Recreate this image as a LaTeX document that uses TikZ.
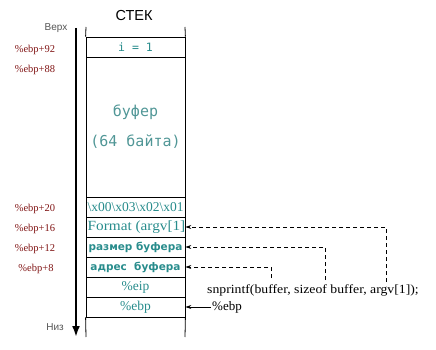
\documentclass[tikz,border=0pt]{standalone}
\usepackage{fontspec}
\setmainfont{Liberation Serif}
\newfontfamily\cyrsans{DejaVu Sans}
\newfontfamily\cyrmono{DejaVu Sans Mono}
\newfontfamily\hsans{Liberation Sans}
\usetikzlibrary{arrows.meta}
\definecolor{tealc}{RGB}{40,140,140}
\definecolor{tealL}{RGB}{80,150,150}
\definecolor{dred}{RGB}{128,20,20}
\definecolor{grayc}{RGB}{85,85,85}
\begin{document}
\begin{tikzpicture}[x=1pt,y=-1pt,
  cell/.style={draw, line width=0.8pt, minimum width=99pt, minimum height=20pt, inner sep=0pt, text=tealc},
  celltext/.style={inner sep=0pt, text=tealc},
  offs/.style={text=dred, font=\fontsize{10.5}{11}\selectfont},
  dashline/.style={draw, line width=0.7pt, dash pattern=on 4pt off 3pt, -{Stealth[length=6pt,width=4pt]}},
  solidarrow/.style={draw, line width=0.7pt, -{Stealth[length=6pt,width=4pt]}},
  axisline/.style={draw, line width=2.6pt, -{Latex[length=11pt,width=8pt]}},
  sidelab/.style={text=grayc, font=\hsans\fontsize{10}{11}\selectfont}
]
\useasboundingbox (0,0) rectangle (436,350);
% title
\node[font=\hsans\fontsize{14.5}{15}\selectfont] (title) at (134,16) {СТЕК};
% axis
\coordinate (atop) at (76,28);
\coordinate (abot) at (76,337);
\draw[axisline] (atop) -- (abot);
\node[sidelab] (verh) at (56,28) {Верх};
\node[sidelab] (niz) at (55,327) {Низ};
% cells
\node[cell, font=\cyrmono\fontsize{11.5}{12}\selectfont, text=tealc] (c1) at (135.5,47) {i = 1};
\node[cell, minimum height=140pt, font=\cyrmono\fontsize{15}{16}\selectfont, text=tealL, align=center] (buf) at (135.5,127) {буфер\\[14pt](64 байта)};
\node[cell] (c3) at (135.5,207) {};
\node[celltext, font=\fontsize{13.5}{14}\selectfont] (c3t) at (c3) {\textbackslash x00\textbackslash x03\textbackslash x02\textbackslash x01};
\node[cell] (fmt) at (135.5,227) {};
\node[celltext, font=\fontsize{14}{15}\selectfont] (fmtt) at ([xshift=1pt]fmt.center) {\scalebox{1.09}[1]{Format (argv[1]}};
\node[cell, font=\cyrsans\bfseries\fontsize{10.5}{12}\selectfont] (size) at (135.5,247) {размер буфера};
\node[cell, font=\cyrsans\bfseries\fontsize{10.5}{12}\selectfont] (addr) at (135.5,267) {адрес\ \ буфера};
\node[cell, font=\fontsize{13.5}{14}\selectfont] (eip) at (135.5,287) {\%eip};
\node[cell, font=\fontsize{13.5}{14}\selectfont] (ebp) at (135.5,307) {\%ebp};
% open ends
\coordinate (tl) at (86,27);
\coordinate (tr) at (185,27);
\coordinate (bl) at (86,337);
\coordinate (br) at (185,337);
\draw[line width=0.8pt] (tl) -- (c1.north west) (tr) -- (c1.north east);
\draw[line width=0.8pt] (ebp.south west) -- (bl) (ebp.south east) -- (br);
% offsets
\node[offs] (o92) at (35,50) {\%ebp+92};
\node[offs] (o88) at (35,70) {\%ebp+88};
\node[offs] (o20) at (35,209) {\%ebp+20};
\node[offs] (o16) at (35,229) {\%ebp+16};
\node[offs] (o12) at (35,249) {\%ebp+12};
\node[offs] (o8) at (36,269) {\%ebp+8};
% call
\node[anchor=west, font=\fontsize{12.5}{13}\selectfont, inner sep=0pt] (call) at (207,290) {\scalebox{1.1}[1]{snprintf(buffer, sizeof buffer, argv[1]);}};
\coordinate (d1) at (386,282);
\coordinate (d2) at (325,280);
\coordinate (d3) at (271,278);
\draw[dashline] (d1) |- (fmt.east);
\draw[dashline] (d2) |- (size.east);
\draw[dashline] (d3) |- (addr.east);
\node[anchor=west, font=\fontsize{13}{14}\selectfont, inner sep=1pt] (ebplab) at (211,307) {\%ebp};
\draw[solidarrow] (ebplab.west) -- (ebp.east);
\end{tikzpicture}
\end{document}
